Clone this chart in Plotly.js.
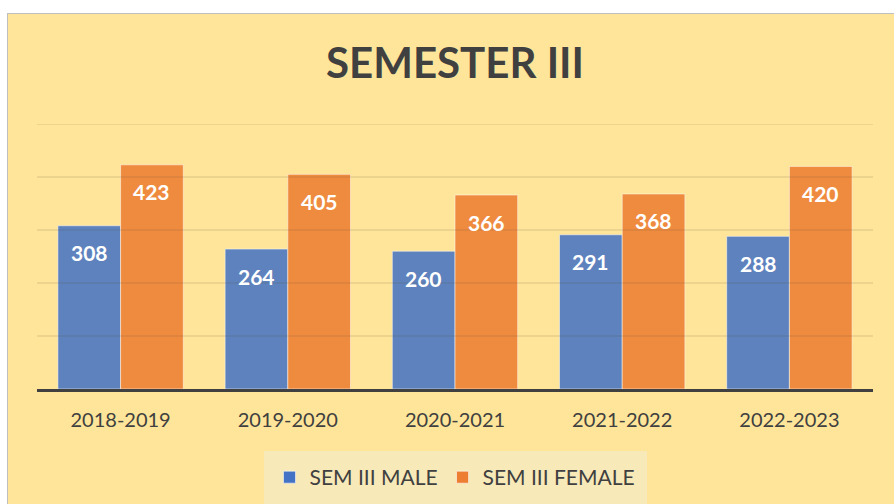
<!DOCTYPE html>
<html>
<head>
<meta charset="utf-8">
<script src="https://cdn.plot.ly/plotly-3.0.1.min.js"></script>
<style>
  html, body { margin:0; padding:0; background:#ffffff; overflow:hidden; }
  #bg { position:absolute; left:7px; top:13px; width:900px; height:500px;
        background:#FEE599; border:1.5px solid #BFBFBF; box-sizing:border-box; }
  #chart { position:absolute; left:0; top:0; width:894px; height:504px; }
</style>
</head>
<body>
<div id="bg"></div>
<div id="chart"></div>
<script>
const categories = ['2018-2019', '2019-2020', '2020-2021', '2021-2022', '2022-2023'];
const maleValues = [308, 264, 260, 291, 288];
const femaleValues = [423, 405, 366, 368, 420];
const gridValues = [100, 200, 300, 400, 500];
const seriesNames = ['SEM III MALE', 'SEM III FEMALE'];

const BARGAP = 0.25;
const half = (1 - BARGAP) / 4;

const labelFont = {family: 'Lato', size: 21, color: '#ffffff', weight: 700};

const traces = [
  {
    type: 'bar', name: seriesNames[0], x: categories, y: maleValues,
    marker: {color: '#4472C4', opacity: 0.86, line: {color: 'rgba(255,255,255,0.55)', width: 1}},
    hoverinfo: 'none'
  },
  {
    type: 'bar', name: seriesNames[1], x: categories, y: femaleValues,
    marker: {color: '#ED7D31', opacity: 0.86, line: {color: 'rgba(255,255,255,0.55)', width: 1}},
    hoverinfo: 'none'
  }
];

const annotations = [];
maleValues.forEach((v, i) => annotations.push({
  x: i - half, y: v, xref: 'x', yref: 'y', text: String(v), showarrow: false,
  yshift: -27, yanchor: 'middle', xanchor: 'center', font: labelFont
}));
femaleValues.forEach((v, i) => annotations.push({
  x: i + half, y: v, xref: 'x', yref: 'y', text: String(v), showarrow: false,
  yshift: -27, yanchor: 'middle', xanchor: 'center', font: labelFont
}));

const shapes = gridValues.map(v => ({
  type: 'line', xref: 'paper', x0: 0, x1: 1, yref: 'y', y0: v, y1: v,
  layer: 'above', line: {color: 'rgba(90,80,60,0.22)', width: 1}
}));

const layout = {
  width: 894, height: 504,
  paper_bgcolor: 'rgba(0,0,0,0)', plot_bgcolor: 'rgba(0,0,0,0)',
  margin: {l: 37, r: 21, t: 124, b: 115, pad: 0, autoexpand: false},
  barmode: 'group', bargap: BARGAP, bargroupgap: 0,
  title: {
    text: 'SEMESTER III', xref: 'paper', x: 0.5, xanchor: 'center',
    yref: 'container', y: 1 - 63 / 504, yanchor: 'middle',
    font: {family: 'Lato', size: 42, color: '#404040', weight: 700}
  },
  xaxis: {
    type: 'category', showgrid: false, zeroline: false,
    showline: true, linecolor: '#404040', linewidth: 3,
    ticks: '', ticklabelstandoff: 11,
    tickfont: {family: 'Lato', size: 20, color: '#404040'}
  },
  yaxis: {
    range: [0, 500], showgrid: false, zeroline: false, showticklabels: false,
    showline: false, ticks: ''
  },
  showlegend: true,
  legend: {
    orientation: 'h', x: 0.5, xanchor: 'center', y: -0.234, yanchor: 'top',
    bgcolor: '#F8E9B9', bordercolor: '#F8E9B9', borderwidth: 6,
    font: {family: 'Lato', size: 21, color: '#404040'},
    itemclick: false, itemdoubleclick: false
  },
  annotations: annotations,
  shapes: shapes
};

Plotly.newPlot('chart', traces, layout, {displayModeBar: false, staticPlot: true});
</script>
</body>
</html>
